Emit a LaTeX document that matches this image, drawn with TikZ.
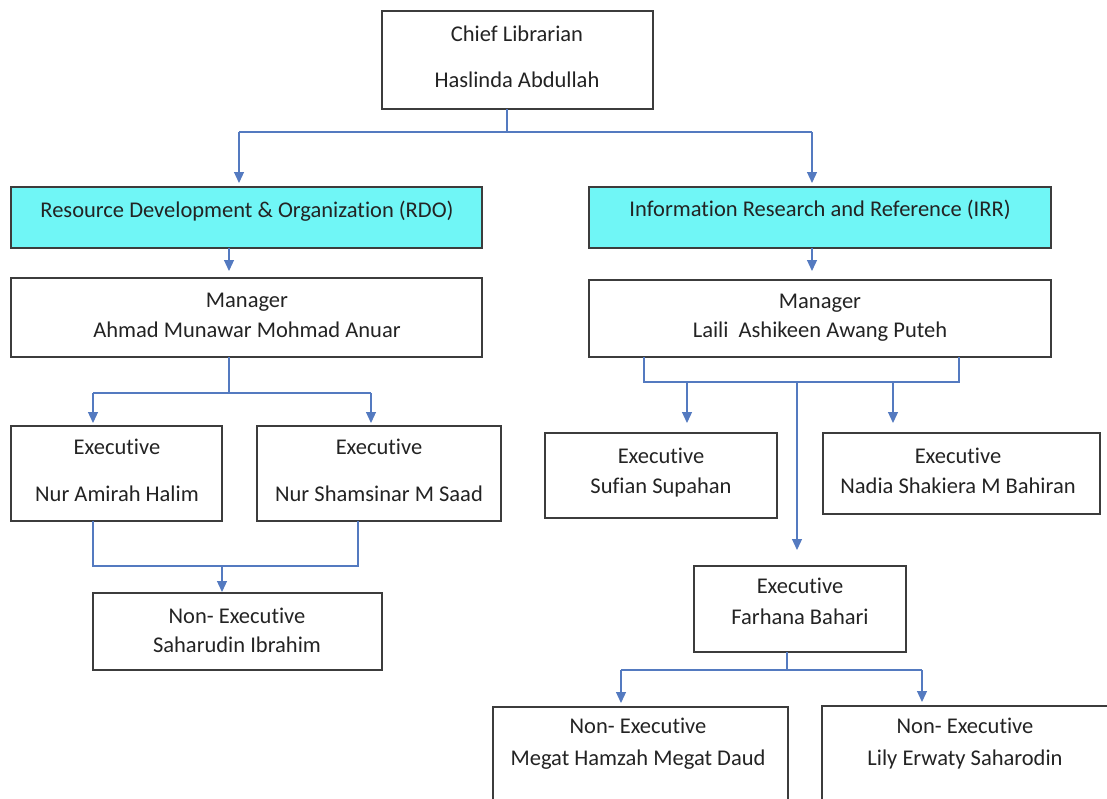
\documentclass[tikz,border=0pt]{standalone}
\usepackage{fontspec}
\setmainfont{Carlito}[Ligatures=NoCommon]
\usetikzlibrary{arrows.meta}
\definecolor{boxc}{RGB}{60,60,60}
\definecolor{cyanfill}{RGB}{112,246,246}
\definecolor{connc}{RGB}{84,122,192}
\definecolor{txtc}{RGB}{35,35,35}
\begin{document}
\begin{tikzpicture}[x=1pt,y=-1pt,
 box/.style={draw=boxc,line width=1.4pt,inner sep=0pt,outer sep=0pt,anchor=north west},
 dept/.style={box,fill=cyanfill},
 txt/.style={font=\fontsize{22.5}{27}\selectfont,text=txtc,anchor=base,inner sep=0pt},
 link/.style={draw=connc,line width=1.2pt},
 arr/.style={link,-{Triangle[width=10pt,length=11pt]}}]
\useasboundingbox (0,0) rectangle (1107,798);
\clip (0,0) rectangle (1107,798);

% boxes
\node[box,minimum width=271pt,minimum height=98pt] (chief) at (382,11) {};
\node[dept,minimum width=471pt,minimum height=61pt] (rdo) at (11,187) {};
\node[dept,minimum width=462pt,minimum height=61pt] (irr) at (589,187) {};
\node[box,minimum width=471pt,minimum height=79pt] (mgrR) at (11,278) {};
\node[box,minimum width=462pt,minimum height=77pt] (mgrI) at (589,280) {};
\node[box,minimum width=211pt,minimum height=95pt] (exA) at (11,426) {};
\node[box,minimum width=244pt,minimum height=95pt] (exB) at (257,426) {};
\node[box,minimum width=289pt,minimum height=77pt] (neS) at (93,593) {};
\node[box,minimum width=232pt,minimum height=85pt] (exSuf) at (545,433) {};
\node[box,minimum width=277pt,minimum height=81pt] (exNad) at (823,433) {};
\node[box,minimum width=212pt,minimum height=86pt] (exF) at (694,566) {};
\node[box,minimum width=295pt,minimum height=120pt] (neM) at (493,707) {};
\node[box,minimum width=300pt,minimum height=120pt] (neL) at (822,706) {};

% texts
\node[txt] (chief-a) at (517,41) {Chief Librarian};
\node[txt] (chief-b) at (517,87) {Haslinda Abdullah};
\node[txt] (rdo-a) at (247,217) {Resource Development \& Organization (RDO)};
\node[txt] (irr-a) at (820,216) {Information Research and Reference (IRR)};
\node[txt] (mgrR-a) at (247,307) {Manager};
\node[txt] (mgrR-b) at (247,337) {Ahmad Munawar Mohmad Anuar};
\node[txt] (mgrI-a) at (820,308) {Manager};
\node[txt] (mgrI-b) at (820,337) {Laili\ \ Ashikeen Awang Puteh};
\node[txt] (exA-a) at (117,454) {Executive};
\node[txt] (exA-b) at (117,501) {Nur Amirah Halim};
\node[txt] (exB-a) at (379,454) {Executive};
\node[txt] (exB-b) at (379,501) {Nur Shamsinar M Saad};
\node[txt] (neS-a) at (237,623) {Non- Executive};
\node[txt] (neS-b) at (237,652) {Saharudin Ibrahim};
\node[txt] (exSuf-a) at (661,463) {Executive};
\node[txt] (exSuf-b) at (661,493) {Sufian Supahan};
\node[txt] (exNad-a) at (958,463) {Executive};
\node[txt] (exNad-b) at (958,493) {Nadia Shakiera M Bahiran};
\node[txt] (exF-a) at (800,593) {Executive};
\node[txt] (exF-b) at (800,624) {Farhana Bahari};
\node[txt] (neM-a) at (638,733) {Non- Executive};
\node[txt] (neM-b) at (638,765) {Megat Hamzah Megat Daud};
\node[txt] (neL-a) at (965,733) {Non- Executive};
\node[txt] (neL-b) at (965,765) {Lily Erwaty Saharodin};

% connectors: chief -> departments
\coordinate (j1) at (507,132);
\coordinate (j1l) at (239,132);
\coordinate (j1r) at (812,132);
\draw[link] (chief.south -| j1) -- (j1);
\draw[link] (j1l) -- (j1r);
\draw[arr,shorten >=4pt] (j1l) -- (j1l |- rdo.north);
\draw[arr,shorten >=4pt] (j1r) -- (j1r |- irr.north);

% departments -> managers
\coordinate (c2) at (229,0);
\coordinate (c3) at (812,0);
\draw[arr,shorten >=7pt] (c2 |- rdo.south) -- (c2 |- mgrR.north);
\draw[arr,shorten >=9pt] (c3 |- irr.south) -- (c3 |- mgrI.north);

% RDO manager -> executives
\coordinate (j4) at (229,393);
\coordinate (j4l) at (93,393);
\coordinate (j4r) at (371,393);
\draw[link] (mgrR.south -| j4) -- (j4);
\draw[link] (j4l) -- (j4r);
\draw[arr,shorten >=3pt] (j4l) -- (j4l |- exA.north);
\draw[arr,shorten >=3pt] (j4r) -- (j4r |- exB.north);

% RDO executives -> non-executive
\coordinate (j5l) at (93,566);
\coordinate (j5r) at (358,566);
\coordinate (j5) at (222,566);
\draw[link] (exA.south -| j5l) -- (j5l) -- (j5r) -- (exB.south -| j5r);
\draw[arr,shorten >=1pt] (j5) -- (j5 |- neS.north);

% IRR manager -> executives
\coordinate (b1) at (644,382);
\coordinate (b2) at (959,382);
\coordinate (b3) at (687,382);
\coordinate (b4) at (893,382);
\coordinate (b5) at (797,382);
\draw[link] (mgrI.south -| b1) -- (b1) -- (b2) -- (mgrI.south -| b2);
\draw[arr,shorten >=10pt] (b3) -- (b3 |- exSuf.north);
\draw[arr,shorten >=10pt] (b4) -- (b4 |- exNad.north);
\draw[arr,shorten >=16pt] (b5) -- (b5 |- exF.north);

% Farhana -> non-executives
\coordinate (j7) at (787,670);
\coordinate (j7l) at (621,670);
\coordinate (j7r) at (922,670);
\draw[link] (exF.south -| j7) -- (j7);
\draw[link] (j7l) -- (j7r);
\draw[arr,shorten >=4pt] (j7l) -- (j7l |- neM.north);
\draw[arr,shorten >=4pt] (j7r) -- (j7r |- neL.north);
\end{tikzpicture}
\end{document}
